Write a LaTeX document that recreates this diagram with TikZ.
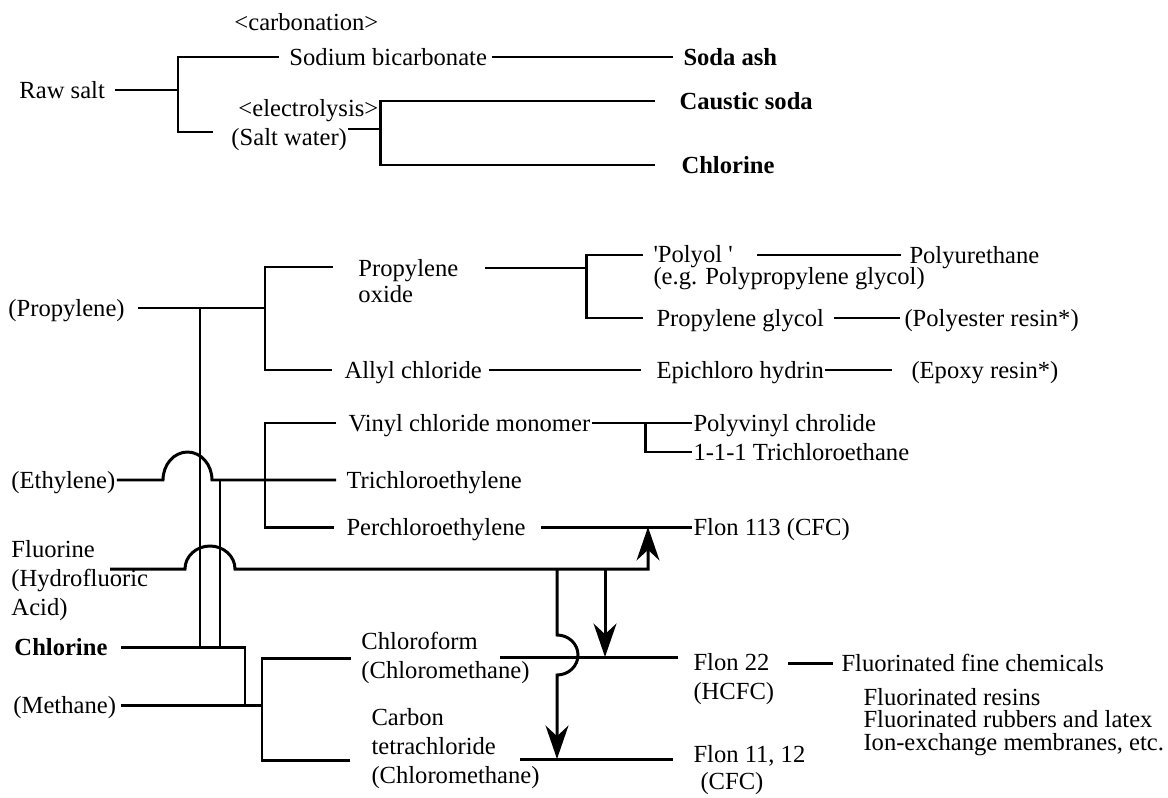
\documentclass[tikz,border=0pt]{standalone}
\usepackage{fontspec}
\setmainfont{Liberation Serif}
\usetikzlibrary{arrows.meta}

\begin{document}
\begin{tikzpicture}[
    x=0.02cm, y=-0.02cm,
    line width=1.7pt,
    txt/.style={anchor=west, inner sep=0pt, text height=9.4pt, text depth=0pt, font=\fontsize{14}{16.5}\selectfont},
    btxt/.style={txt, font=\fontsize{14}{16.5}\selectfont\bfseries},
    mtxt/.style={anchor=west, inner sep=0pt, align=left, font=\fontsize{14}{16.5}\selectfont},
    feed/.style={-{Stealth[length=19pt, width=13pt, inset=6pt]}}
]
\useasboundingbox (0,0) rectangle (1168,797);

% raw salt
\node[txt] (carbonation) at (233,22) {<carbonation>};
\node[txt] (bicarb) at (288,57) {Sodium bicarbonate};
\node[btxt] (sodaash) at (682,57) {Soda ash};
\node[txt] (rawsalt) at (18,90) {Raw salt};
\node[txt] (electrolysis) at (237,108) {<electrolysis>};
\node[txt] (saltwater) at (230,137) {(Salt water)};
\node[btxt] (caustic) at (678,101) {Caustic soda};
\node[btxt] (chlorineA) at (680,165) {Chlorine};

\coordinate (jsalt) at (178,90);
\coordinate (swin) at (213,132);
\coordinate (jelec) at (380,129);

\draw ([xshift=5pt]rawsalt.east) -- (jsalt);
\draw ([xshift=-5pt]bicarb.west) -| (jsalt) |- (swin);
\draw ([xshift=2pt]bicarb.east) -- ([xshift=-5pt]sodaash.west);
\draw (saltwater.east |- jelec) -- (jelec);
\draw ([xshift=-13pt]caustic.west) -| (jelec) |- ([xshift=-14pt]chlorineA.west);

% propylene
\node[txt] (propylene) at (7,308) {(Propylene)};
\node[mtxt] (propox) at (357,281) {Propylene\\[-1.7pt]oxide};
\node[txt] (allyl) at (343,370) {Allyl chloride};
\node[mtxt] (polyol) at (652,268) {\textquotesingle Polyol \textquotesingle\\[-4pt](e.g. Polypropylene glycol)};
\node[txt] (polyurethane) at (908,255) {Polyurethane};
\node[txt] (propglycol) at (655,318) {Propylene glycol};
\node[txt] (polyester) at (903,318) {(Polyester resin*)};
\node[txt] (epichloro) at (655,370) {Epichloro hydrin};
\node[txt] (epoxy) at (910,370) {(Epoxy resin*)};

\coordinate (jprop) at (265,308);
\coordinate (poxin) at (333,267);
\coordinate (poxout) at (485,268);
\coordinate (jpoly) at (586,268);
\coordinate (polyin) at (643,255);
\coordinate (polyout) at (757,255);

\draw ([xshift=7pt]propylene.east) -- (jprop);
\draw (poxin) -| (jprop) |- ([xshift=-6pt]allyl.west);
\draw (poxout) -- (jpoly);
\draw (polyin) -| (jpoly) |- ([xshift=-7pt]propglycol.west);
\draw (polyout) -- ([xshift=-4pt]polyurethane.west);
\draw ([xshift=5pt]propglycol.east) -- ([xshift=-2pt]polyester.west);
\draw ([xshift=3pt]allyl.east) -- ([xshift=-8pt]epichloro.west);
\draw (epichloro.east) -- ([xshift=-10pt]epoxy.west);

% ethylene
\node[txt] (vinyl) at (347,423) {Vinyl chloride monomer};
\node[txt] (pvc) at (692,423) {Polyvinyl chrolide};
\node[txt] (tca) at (692,452) {1-1-1 Trichloroethane};
\node[txt] (ethylene) at (10,480) {(Ethylene)};
\node[txt] (trichloro) at (345,480) {Trichloroethylene};
\node[txt] (perchloro) at (345,527) {Perchloroethylene};
\node[txt] (flon113) at (692,527) {Flon 113 (CFC)};

\coordinate (hopE) at (163,480);
\coordinate (jeth) at (265,480);
\coordinate (jvin) at (645,423);

\draw (ethylene.east) -- (hopE) arc[start angle=180, end angle=0, x radius=0.49cm, y radius=0.56cm] -- ([xshift=-5pt]trichloro.west);
\draw ([xshift=-6pt]vinyl.west) -| (jeth) |- ([xshift=-6pt]perchloro.west);
\draw (vinyl.east) -- (pvc.west);
\draw (jvin) |- (tca.west);
\draw ([xshift=8pt]perchloro.east) -- (flon113.west);

% methane and fluorine
\node[mtxt] (fluorine) at (10,581) {Fluorine\\(Hydrofluoric\\Acid)};
\node[btxt] (chlorineB) at (13,647) {Chlorine};
\node[txt] (methane) at (12,705) {(Methane)};
\node[mtxt] (chloroform) at (360,658) {Chloroform\\(Chloromethane)};
\node[mtxt] (carbontet) at (370,749) {Carbon\\tetrachloride\\(Chloromethane)};
\node[mtxt] (flon22) at (692,679) {Flon 22\\(HCFC)};
\node[txt] (finechem) at (840,663) {Fluorinated fine chemicals};
\node[mtxt, font=\fontsize{14}{13}\selectfont] (fluorinated) at (862,722) {Fluorinated resins\\Fluorinated rubbers and latex\\Ion-exchange membranes, etc.};
\node[mtxt] (flon11) at (692,770) {Flon 11, 12\\[-1pt]\hspace*{4pt}(CFC)};

\coordinate (jcm) at (245,705);
\coordinate (jmeth) at (262,705);
\coordinate (ctin) at (350,760);
\coordinate (cfout) at (500,657);
\coordinate (cfend) at (678,657);
\coordinate (ctout) at (520,759);
\coordinate (ctend) at (673,759);
\coordinate (f22out) at (788,663);
\coordinate (flin) at (110,569);
\coordinate (hopF) at (185,569);
\coordinate (fl113) at (648,569);
\coordinate (jfct) at (557,569);
\coordinate (jf22) at (605,569);
\coordinate (jpv) at (200,308);
\coordinate (jev) at (220,480);

\draw (jpv) -- (jpv |- chlorineB.east);
\draw (jev) -- (jev |- chlorineB.east);
\draw ([xshift=7pt]chlorineB.east) -| (jcm);
\draw ([xshift=2pt]methane.east) -- (jmeth);
\draw ([xshift=-5pt]chloroform.west) -| (jmeth) |- (ctin);
\draw (cfout) -- (cfend);
\draw (ctout) -- (ctend);
\draw (f22out) -- ([xshift=-4pt]finechem.west);
\draw[feed] (flin) -- (hopF) arc[start angle=180, end angle=0, x radius=0.5cm, y radius=0.46cm] -- (fl113) -- (fl113 |- flon113.west);
\draw[feed] (jf22) -- (jf22 |- cfend);
\draw[feed] (jfct) -- ++(0,66) arc[start angle=90, end angle=-90, x radius=0.42cm, y radius=0.4cm] -- (jfct |- ctend);
\end{tikzpicture}
\end{document}
